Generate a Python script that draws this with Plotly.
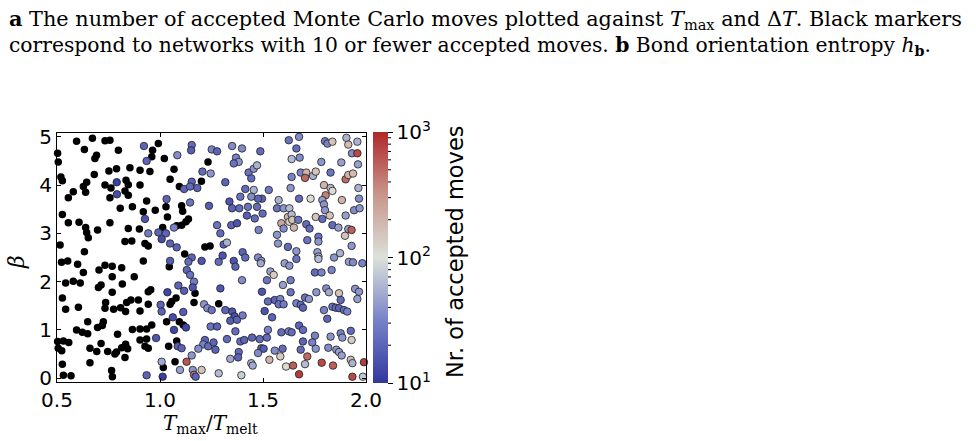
import plotly.graph_objects as go
import numpy as np

# ---------------- data ----------------
# networks with <=10 accepted moves (black markers)
black_x = [0.595,0.672,0.733,0.757,0.633,0.798,0.503,0.506,0.692,0.684,0.681,0.752,0.789,0.854,0.519,0.526,0.644,0.628,0.639,0.579,
           0.555,0.733,0.762,0.757,0.835,0.846,0.830,0.846,0.807,0.866,0.526,0.555,0.607,0.639,0.644,0.652,0.697,0.757,0.846,0.830,
           0.863,0.515,0.633,0.522,0.552,0.600,0.628,0.704,0.733,0.768,0.814,0.768,0.542,0.579,0.613,0.701,0.714,0.817,0.768,0.875,
           0.526,0.542,0.604,0.736,0.733,0.775,0.809,0.833,0.838,0.859,0.649,0.697,0.725,0.720,0.595,0.623,0.649,0.794,0.866,0.503,
           0.531,0.557,0.506,0.523,0.660,0.714,0.693,0.746,0.781,0.789,0.814,0.833,0.843,0.830,0.526,0.660,0.531,0.568,0.765,0.769,
           0.992,0.964,0.960,1.021,0.903,0.951,1.068,1.049,0.903,1.201,1.094,0.935,1.029,1.105,0.919,0.977,1.036,1.110,1.126,1.138,
           1.105,1.081,1.013,0.900,0.927,0.943,1.218,1.243,1.120,0.919,1.045,1.170,0.943,0.955,0.943,0.895,1.057,1.078,1.049,1.165,
           0.903,1.113,1.094,1.032,0.903,0.935,0.960,0.903,0.935,0.927,0.943,1.042,1.081,1.016,1.073,1.285,1.233]
black_y = [4.91,4.97,4.92,4.93,4.74,4.72,4.66,4.48,4.62,4.55,4.22,4.29,4.34,4.36,4.17,4.09,4.06,3.97,3.85,3.86,
           3.74,4.00,3.94,3.74,4.10,4.01,3.88,3.79,3.52,3.55,3.39,3.22,3.23,3.12,3.02,2.91,3.07,3.22,3.10,2.83,
           2.84,2.76,2.62,2.40,2.43,2.36,2.19,2.24,2.34,2.32,2.29,2.10,1.97,2.01,1.97,1.88,1.93,1.95,1.78,2.10,
           1.66,1.43,1.47,1.57,1.45,1.43,1.46,1.38,1.57,1.62,1.17,1.05,1.17,1.09,1.00,0.95,0.92,0.91,1.01,0.76,
           0.77,0.74,0.62,0.57,0.62,0.72,0.55,0.55,0.50,0.54,0.63,0.70,0.61,0.43,0.29,0.32,0.06,0.05,0.16,0.03,
           4.86,4.72,4.59,4.55,4.31,4.28,4.33,4.12,4.00,4.08,3.97,3.67,3.55,3.57,3.45,3.48,3.34,3.46,3.24,3.30,
           3.17,3.16,3.12,3.09,2.79,2.74,2.72,2.74,2.57,2.43,2.31,1.76,1.79,1.83,1.53,1.62,1.59,1.66,1.53,1.57,
           1.39,1.10,1.17,1.17,1.02,1.02,1.10,0.79,0.81,0.66,0.62,0.66,0.77,0.22,0.34,1.54,4.48]

# networks with >10 accepted moves: T_max/T_melt, beta, log10(accepted moves)
moves_x = [0.790,0.791,
    0.922,0.935,1.084,1.154,1.151,1.251,1.206,1.246,1.154,1.117,1.146,1.181,1.032,1.146,1.238,0.927,1.068,0.943,
    0.992,1.029,1.008,1.049,1.081,1.154,1.049,1.138,1.202,1.130,1.146,1.165,1.159,1.089,1.117,1.036,1.003,1.214,1.230,1.251,
    1.008,1.062,1.113,1.126,1.068,1.246,0.981,1.086,1.105,1.218,1.210,1.186,1.234,1.154,1.129,1.008,1.097,1.159,1.202,1.165,
    1.173,0.935,1.013,
    1.277,1.350,1.398,1.487,1.625,1.369,1.382,1.358,1.317,1.430,1.455,1.471,1.443,1.414,1.455,1.528,1.495,1.476,1.443,1.390,
    1.337,1.350,1.385,1.427,1.471,1.422,1.460,1.498,1.479,1.576,1.568,1.600,1.628,1.621,1.628,1.589,1.600,1.568,1.573,1.621,
    1.277,1.293,1.346,1.374,1.309,1.325,1.304,1.285,1.358,1.366,1.401,1.414,1.476,1.492,1.489,1.536,1.552,1.519,1.605,1.628,
    1.597,1.398,1.293,1.495,1.350,1.362,1.341,1.374,1.401,1.317,1.524,1.557,1.584,1.576,1.600,1.508,1.544,1.277,1.366,1.325,
    1.390,1.409,1.447,1.484,1.524,1.519,1.589,1.625,1.260,1.269,1.382,1.379,1.341,1.492,1.503,1.476,1.443,1.450,1.557,1.595,
    1.531,1.584,1.612,1.285,1.395,
    1.675,1.801,1.813,1.837,1.905,1.914,1.958,1.662,1.639,1.678,1.783,1.880,1.932,1.958,1.961,1.683,1.710,1.704,1.743,1.756,
    1.828,1.901,1.914,1.937,1.639,1.634,1.796,1.828,1.837,1.804,1.788,1.675,1.731,1.883,1.966,1.963,1.796,1.801,1.942,1.969,
    1.639,1.642,1.650,1.671,1.710,1.726,1.756,1.788,1.824,1.837,1.866,1.901,1.914,1.930,1.898,1.769,1.769,1.715,1.930,1.662,
    1.662,1.764,1.769,1.769,1.845,1.874,1.917,1.937,1.982,1.752,1.784,1.833,1.634,1.634,1.704,1.723,1.759,1.807,1.820,1.869,
    1.877,1.947,1.966,1.958,1.662,1.683,1.694,1.796,1.837,1.853,1.869,1.893,1.909,1.812,1.675,1.694,1.639,1.752,1.828,1.877,
    1.885,1.926,1.930,1.694,1.739,1.683,1.756,1.817,1.856,1.869,1.882,1.926,1.934,1.715,1.646,1.704,1.785,1.840,1.990,1.675,
    1.934,1.985]
moves_y = [4.06,3.81,
    4.81,4.50,4.62,4.83,4.72,4.74,4.28,4.24,4.07,3.92,3.97,3.94,3.71,3.64,3.57,3.30,3.12,3.00,
    3.02,3.00,2.88,2.79,2.71,2.50,2.43,2.41,2.43,2.24,2.14,2.00,1.88,1.92,1.81,1.78,1.52,1.53,1.45,1.41,
    1.38,1.26,1.37,1.05,1.00,1.07,0.83,0.66,0.62,0.79,0.70,0.61,0.66,0.47,0.34,0.34,0.17,0.17,0.17,0.07,
    0.03,0.06,0.03,
    4.70,4.81,4.76,4.70,4.93,4.57,4.48,4.45,4.06,4.26,4.34,4.41,4.14,3.92,3.90,3.90,3.72,3.72,3.76,3.76,
    3.66,3.52,3.52,3.55,3.55,3.37,3.31,3.41,3.07,3.69,3.52,3.52,3.52,3.34,3.24,3.21,3.10,2.97,2.79,2.72,
    3.17,3.00,3.17,3.21,2.77,2.81,2.54,2.41,2.43,2.31,2.61,2.50,2.50,2.43,2.38,2.21,2.14,2.03,2.38,2.33,
    1.93,2.03,1.86,1.79,1.38,1.28,1.19,1.21,1.30,1.41,1.59,1.62,1.64,1.53,1.53,1.39,1.26,1.07,0.97,0.81,
    0.76,0.79,0.84,0.81,1.00,0.84,0.95,0.97,0.74,0.59,0.54,0.43,0.40,0.62,0.61,0.52,0.31,0.26,0.57,0.61,
    0.38,0.45,0.24,0.10,0.06,
    5.00,4.91,4.86,4.90,4.98,4.84,4.90,4.76,4.54,4.57,4.48,4.47,4.66,4.66,4.43,4.26,4.26,4.15,4.19,4.28,
    4.26,4.12,4.21,4.24,4.17,3.94,4.00,3.94,3.88,3.79,3.69,3.72,3.72,3.69,3.72,3.94,3.60,3.48,3.48,3.52,
    3.39,3.28,3.12,3.28,3.19,3.10,3.34,3.30,3.37,3.17,3.12,3.37,3.09,3.07,2.95,2.93,2.83,2.86,2.74,2.63,
    2.47,2.61,2.52,2.47,2.50,2.59,2.41,2.40,2.38,2.19,2.19,2.24,2.03,1.78,1.67,1.64,1.78,1.86,1.78,1.76,
    1.62,1.85,1.79,1.64,1.55,1.52,1.46,1.41,1.48,1.46,1.45,1.41,1.38,1.23,1.09,1.00,0.95,0.88,0.86,0.93,
    0.84,0.98,0.79,0.76,0.74,0.59,0.61,0.63,0.59,0.54,0.47,0.38,0.31,0.45,0.26,0.29,0.32,0.26,0.33,0.08,
    0.03,0.03]
moves_log = [1.05,1.15,
    1.3,1.3,1.55,1.35,1.25,1.5,1.35,1.6,1.3,1.3,1.35,1.3,1.3,1.4,1.25,1.2,1.5,1.45,
    1.3,1.3,1.15,1.3,1.3,1.3,1.25,1.35,1.2,1.3,1.4,1.45,1.2,1.3,1.25,1.1,1.3,1.6,1.55,1.4,
    1.3,1.15,1.25,1.1,1.1,1.4,1.2,1.25,1.3,1.3,1.5,1.55,1.35,1.6,2.8,1.7,1.65,1.6,2.2,2.7,
    1.3,1.3,1.05,
    1.3,1.55,1.55,1.35,1.4,1.5,1.6,1.4,1.3,1.4,1.6,1.75,1.35,1.35,1.75,1.45,1.3,1.3,1.55,1.4,
    1.2,1.3,1.35,1.4,1.35,1.25,1.35,1.35,1.5,1.75,1.4,1.6,1.8,2.3,2.1,2.4,1.55,1.6,1.6,1.35,
    1.4,1.35,1.3,1.2,1.3,1.75,1.2,1.35,1.2,1.3,1.3,1.35,1.55,1.6,1.7,1.65,2.15,1.4,1.65,1.6,
    1.65,1.55,1.2,1.2,1.2,1.15,1.25,1.3,1.45,1.3,1.35,1.3,1.5,1.4,1.45,1.2,1.3,1.3,1.35,1.35,
    1.35,1.3,1.3,1.35,1.5,1.35,1.35,1.5,1.3,1.3,1.35,1.3,1.7,1.3,1.25,1.55,1.75,1.7,1.55,1.35,
    2.3,2.15,2.05,1.8,1.9,
    1.55,1.45,1.5,2.2,1.75,2.25,1.75,1.35,1.8,1.55,1.6,1.65,1.55,2.85,1.65,1.5,2.3,2.7,1.75,2.2,
    1.4,2.7,2.3,2.25,1.5,1.6,2.3,1.8,2.05,2.6,1.65,1.35,2.05,2.3,1.55,1.75,1.6,1.6,1.55,1.6,
    1.8,2.2,2.3,1.4,1.35,1.35,2.2,1.35,2.2,1.35,1.65,1.65,1.65,2.75,2.2,1.4,1.6,1.4,1.6,1.6,
    1.4,1.65,1.7,1.8,1.6,1.75,1.65,1.55,1.5,1.35,1.5,1.5,1.45,1.4,1.4,1.6,1.6,1.55,1.7,2.2,
    1.35,1.6,1.6,1.65,1.5,1.35,1.3,1.5,1.4,1.35,1.3,1.35,1.5,1.3,1.3,1.35,1.35,1.5,1.6,1.5,
    1.6,1.35,2.15,1.3,1.5,1.35,1.6,1.55,1.6,1.65,1.65,2.25,1.75,2.7,2.75,1.8,2.85,2.75,2.9,2.9,
    2.85,1.85]

x_ticks = [0.5, 1.0, 1.5, 2.0]
x_ticklabels = ["0.5", "1.0", "1.5", "2.0"]
y_ticks = [0, 1, 2, 3, 4, 5]
cbar_ticks = [1, 2, 3]
cbar_ticklabels = ["10<sup>1</sup>", "10<sup>2</sup>", "10<sup>3</sup>"]

# ---------------- layout geometry (pixels) ----------------
W, H = 976, 441
L, R, T, B = 57, 366, 133, 382   # plot area edges
pw, ph = R - L, B - T

def px(xp):
    return (xp - L) / pw

def py(yp):
    return (B - yp) / ph

colorscale = [
    [0.0, "rgb(50,55,160)"],
    [0.25, "rgb(120,130,200)"],
    [0.5, "rgb(220,225,218)"],
    [0.75, "rgb(200,150,140)"],
    [1.0, "rgb(175,40,40)"],
]

sans = "DejaVu Sans"
serif = "DejaVu Serif"

fig = go.Figure()
fig.add_trace(go.Scatter(
    x=black_x, y=black_y, mode="markers", cliponaxis=False,
    marker=dict(color="black", size=7.5, line=dict(width=0)),
    showlegend=False, hoverinfo="skip"))
fig.add_trace(go.Scatter(
    x=moves_x, y=moves_y, mode="markers", cliponaxis=False,
    marker=dict(color=moves_log, colorscale=colorscale, cmin=1, cmax=3, size=7.5,
                line=dict(width=0.8, color="rgb(30,30,30)"),
                colorbar=dict(
                    thickness=15, thicknessmode="pixels",
                    len=251, lenmode="pixels",
                    x=px(373), xanchor="left", xpad=0,
                    y=0.5, yanchor="middle", ypad=0,
                    outlinewidth=0,
                    tickvals=cbar_ticks, ticktext=cbar_ticklabels,
                    ticks="outside", ticklen=5, tickwidth=1, tickcolor="black",
                    tickfont=dict(family=sans, size=20, color="black"),
                )),
    showlegend=False, hoverinfo="skip"))

# minor ticks on colorbar (log scale)
shapes = []
cb_top, cb_bot = py(132), py(383)
for dec in [1, 2]:
    for m in range(2, 10):
        v = dec + np.log10(m)
        yy = cb_bot + (v - 1) / 2 * (cb_top - cb_bot)
        shapes.append(dict(type="line", xref="paper", yref="paper",
                           x0=px(388), x1=px(391), y0=yy, y1=yy,
                           line=dict(color="black", width=1)))

annotations = [
    dict(text="<b>a</b> The number of accepted Monte Carlo moves plotted against <i>T</i><sub>max</sub> and Δ<i>T</i>. Black markers",
         x=px(7), y=py(19), xref="paper", yref="paper", xanchor="left", yanchor="middle",
         showarrow=False, font=dict(family=serif, size=20.8, color="black")),
    dict(text="correspond to networks with 10 or fewer accepted moves. <b>b</b> Bond orientation entropy <i>h</i><sub><b>b</b></sub>.",
         x=px(7), y=py(46), xref="paper", yref="paper", xanchor="left", yanchor="middle",
         showarrow=False, font=dict(family=serif, size=20.3, color="black")),
    dict(text="<i>T</i><sub>max</sub>/<i>T</i><sub>melt</sub>",
         x=px(210), y=py(424), xref="paper", yref="paper", xanchor="center", yanchor="middle",
         showarrow=False, font=dict(family=serif, size=20, color="black")),
    dict(text="<i>β</i>",
         x=px(16), y=py(262), xref="paper", yref="paper", xanchor="center", yanchor="middle",
         textangle=-90, showarrow=False, font=dict(family=serif, size=22, color="black")),
    dict(text="Nr. of accepted moves",
         x=px(455), y=py(252), xref="paper", yref="paper", xanchor="center", yanchor="middle",
         textangle=-90, showarrow=False, font=dict(family=sans, size=22.5, color="black")),
]

axis_common = dict(showgrid=False, zeroline=False, showline=True, linecolor="black", linewidth=1,
                   mirror="ticks", ticks="inside", ticklen=4, tickwidth=1, tickcolor="black",
                   tickfont=dict(family=sans, size=20, color="black"))

fig.update_layout(
    width=W, height=H,
    margin=dict(l=L, r=W - R, t=T, b=H - B, pad=0),
    paper_bgcolor="white", plot_bgcolor="white",
    xaxis=dict(range=[0.5, 2.0], tickvals=x_ticks, ticktext=x_ticklabels, **axis_common),
    yaxis=dict(range=[-0.08, 5.08], tickvals=y_ticks, **axis_common),
    shapes=shapes, annotations=annotations,
)

fig.write_html("out.html")
